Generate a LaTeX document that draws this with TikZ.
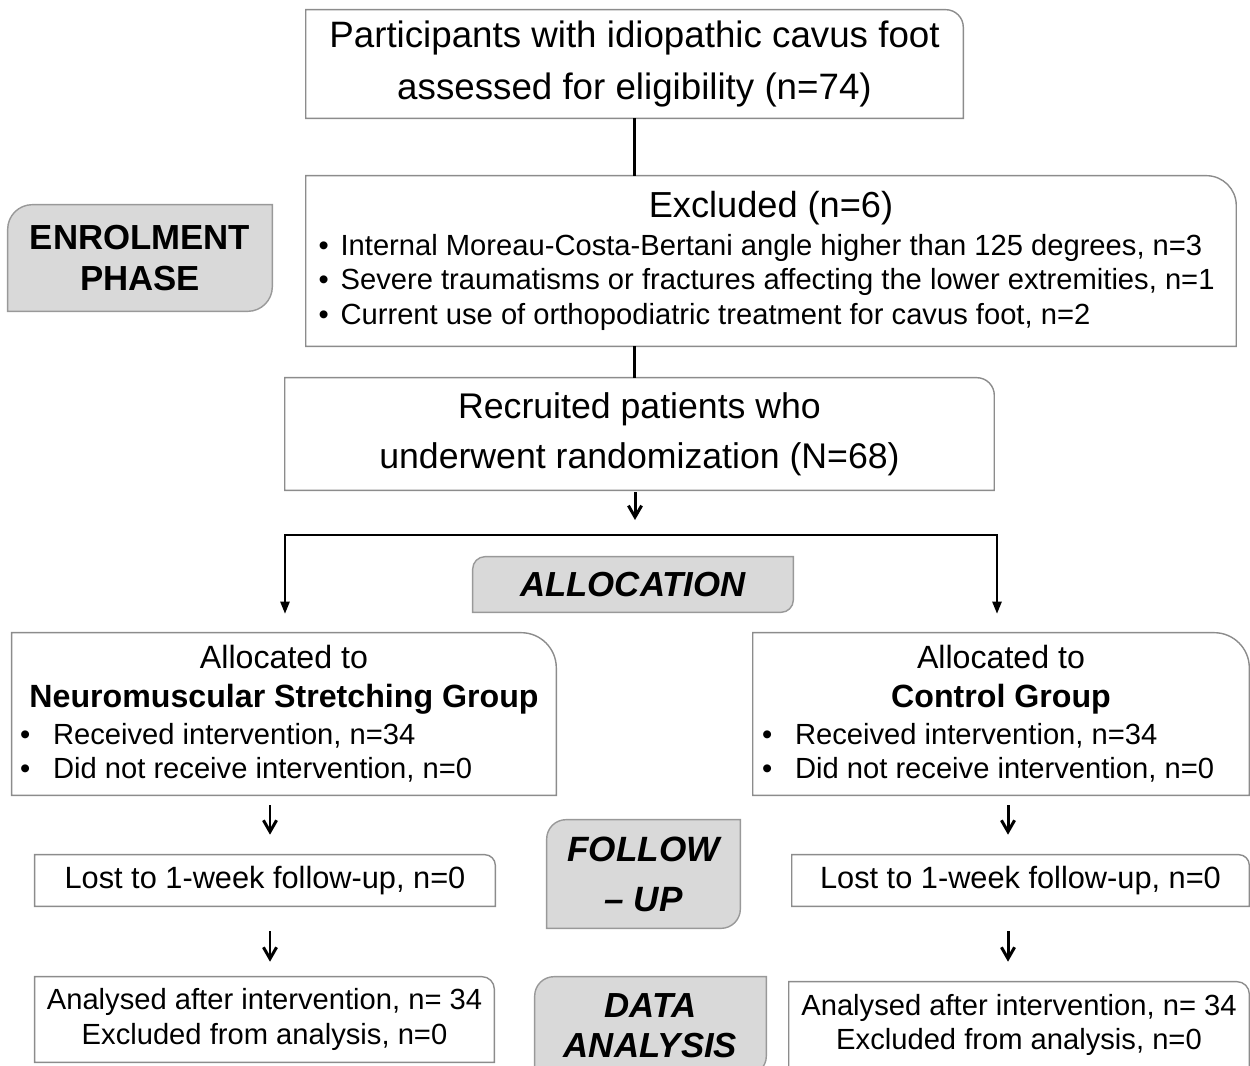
\documentclass[tikz,border=0pt]{standalone}
\usepackage{fontspec}
\setmainfont{Liberation Sans}
\usetikzlibrary{arrows.meta,backgrounds}

\newcommand{\fsz}[2]{\fontsize{#1}{#2}\selectfont}
% white box: only the top right corner is rounded
\newcommand{\cornerframe}[2]{%
  \draw[boxline] (#1.south west) -- (#1.north west) -- ([xshift=-#2]#1.north east)
    arc[start angle=90, end angle=0, radius=#2] -- (#1.south east) -- cycle;}
% grey phase box: top left and bottom right corners rounded
\newcommand{\phaseframe}[2]{%
  \filldraw[phasefill] ([yshift=-#2]#1.north west) arc[start angle=180, end angle=90, radius=#2]
    -- (#1.north east) -- ([yshift=#2]#1.south east)
    arc[start angle=0, end angle=-90, radius=#2] -- (#1.south west) -- cycle;}

\begin{document}
\begin{tikzpicture}[x=0.02cm, y=0.02cm,
    wbox/.style={inner sep=0pt, align=center},
    listbox/.style={inner sep=0pt, align=left, font=\fsz{16.6}{19.8}},
    boxline/.style={draw=gray!90, line width=0.8pt},
    phasefill/.style={fill=gray!30, draw=gray!80, line width=0.8pt},
    phase/.style={inner sep=0pt, align=center, font=\bfseries\fsz{19.8}{23.8}},
    link/.style={line width=1.6pt},
    drop/.style={link, {Triangle[length=7pt,width=5pt]}-{Triangle[length=7pt,width=5pt]}},
    downarrow/.style={line width=1.7pt, -{Straight Barb[length=6.5pt,width=7.5pt]}}
]
\useasboundingbox (0,0) rectangle (1250,-1065);

% Enrolment
\node[wbox, minimum width=13.14cm, minimum height=2.16cm, font=\fsz{20.9}{29.4}] (assess) at (634.5,-64)
    {Participants with idiopathic cavus foot\\assessed for eligibility (n=74)};

\node[listbox, minimum width=18.6cm, minimum height=3.4cm] (excl) at (771,-261) {%
    \makebox[18.1cm][c]{\fsz{20.6}{24}Excluded (n=6)}\\[1.7pt]
    \makebox[0.44cm][l]{•}Internal Moreau-Costa-Bertani angle higher than 125 degrees, n=3\\
    \makebox[0.44cm][l]{•}Severe traumatisms or fractures affecting the lower extremities, n=1\\
    \makebox[0.44cm][l]{•}Current use of orthopodiatric treatment for cavus foot, n=2};

\node[wbox, minimum width=14.18cm, minimum height=2.24cm, font=\fsz{20.3}{28.6}] (recruit) at (639.5,-434)
    {Recruited patients who\\underwent randomization (N=68)};

\node[phase, minimum width=5.28cm, minimum height=2.12cm] (enrol) at (140,-258) {ENROLMENT\\PHASE};

% Allocation
\node[phase, font=\bfseries\itshape\fsz{19.8}{24}, minimum width=6.4cm, minimum height=1.1cm] (alloc)
    at (633,-584.5) {ALLOCATION};

\node[listbox, minimum width=10.88cm, minimum height=3.24cm] (grpA) at (284,-714) {%
    \makebox[10.56cm][c]{\fsz{18.3}{21}Allocated to}\\[2.2pt]
    \makebox[10.56cm][c]{\fsz{18.3}{21}\bfseries Neuromuscular Stretching Group}\\[1.2pt]
    \makebox[0.66cm][l]{•}Received intervention, n=34\\
    \makebox[0.66cm][l]{•}Did not receive intervention, n=0};

\node[listbox, minimum width=9.92cm, minimum height=3.24cm] (grpB) at (1001,-714) {%
    \makebox[9.56cm][c]{\fsz{18.3}{21}Allocated to}\\[2.2pt]
    \makebox[9.56cm][c]{\fsz{18.3}{21}\bfseries Control Group}\\[1.2pt]
    \makebox[0.66cm][l]{•}Received intervention, n=34\\
    \makebox[0.66cm][l]{•}Did not receive intervention, n=0};

% Follow-up
\node[wbox, minimum width=9.2cm, minimum height=1.02cm, font=\fsz{17.5}{21}] (lostA) at (265,-880.5)
    {Lost to 1-week follow-up, n=0};
\node[wbox, minimum width=9.14cm, minimum height=1.02cm, font=\fsz{17.5}{21}] (lostB) at (1020.5,-880.5)
    {Lost to 1-week follow-up, n=0};
\node[phase, font=\bfseries\itshape\fsz{20}{28.4}, minimum width=3.86cm, minimum height=2.16cm] (follow)
    at (643.5,-874) {FOLLOW\\– UP};

% Data analysis
\node[wbox, minimum width=9.18cm, minimum height=1.7cm, font=\fsz{16.6}{19.8}] (anaA) at (264.5,-1019.5)
    {Analysed after intervention, n= 34\\Excluded from analysis, n=0};
\node[wbox, minimum width=9.2cm, minimum height=1.72cm, font=\fsz{16.6}{19.8}] (anaB) at (1019,-1025)
    {Analysed after intervention, n= 34\\Excluded from analysis, n=0};
\node[phase, font=\bfseries\itshape\fsz{19.8}{22.7}, minimum width=4.62cm, minimum height=1.96cm] (data)
    at (650.5,-1026) {DATA\\ANALYSIS};

% Frames behind the texts
\begin{scope}[on background layer]
    \foreach \n/\r in {assess/10pt, excl/17pt, recruit/10pt, grpA/20pt, grpB/20pt,
                       lostA/6pt, lostB/6pt, anaA/7pt, anaB/7pt}
        {\cornerframe{\n}{\r}}
    \foreach \n/\r in {enrol/14pt, alloc/7pt, follow/11pt, data/11pt}
        {\phaseframe{\n}{\r}}
\end{scope}

% Connectors
\coordinate (split) at (635,-535);
\coordinate (dropL) at (285,-614);
\coordinate (dropR) at (997,-614);
\coordinate (colA) at (270,-820);
\coordinate (colB) at (1008,-820);

\draw[link] (assess.south) -- (assess.south |- excl.north);
\draw[link] (excl.south -| assess.south) -- (recruit.north -| assess.south);
\draw[downarrow, line width=1.7pt, shorten <=1pt, shorten >=0.3cm] (recruit.south -| split) -- (split);
\draw[drop] (dropL) |- (split) -| (dropR);

\draw[downarrow, shorten <=0.2cm, shorten >=0.4cm] (grpA.south -| colA) -- (lostA.north -| colA);
\draw[downarrow, shorten <=0.5cm, shorten >=0.3cm] (lostA.south -| colA) -- (anaA.north -| colA);
\draw[downarrow, shorten <=0.2cm, shorten >=0.4cm] (grpB.south -| colB) -- (lostB.north -| colB);
\draw[downarrow, shorten <=0.5cm, shorten >=0.4cm] (lostB.south -| colB) -- (anaB.north -| colB);

\end{tikzpicture}
\end{document}
